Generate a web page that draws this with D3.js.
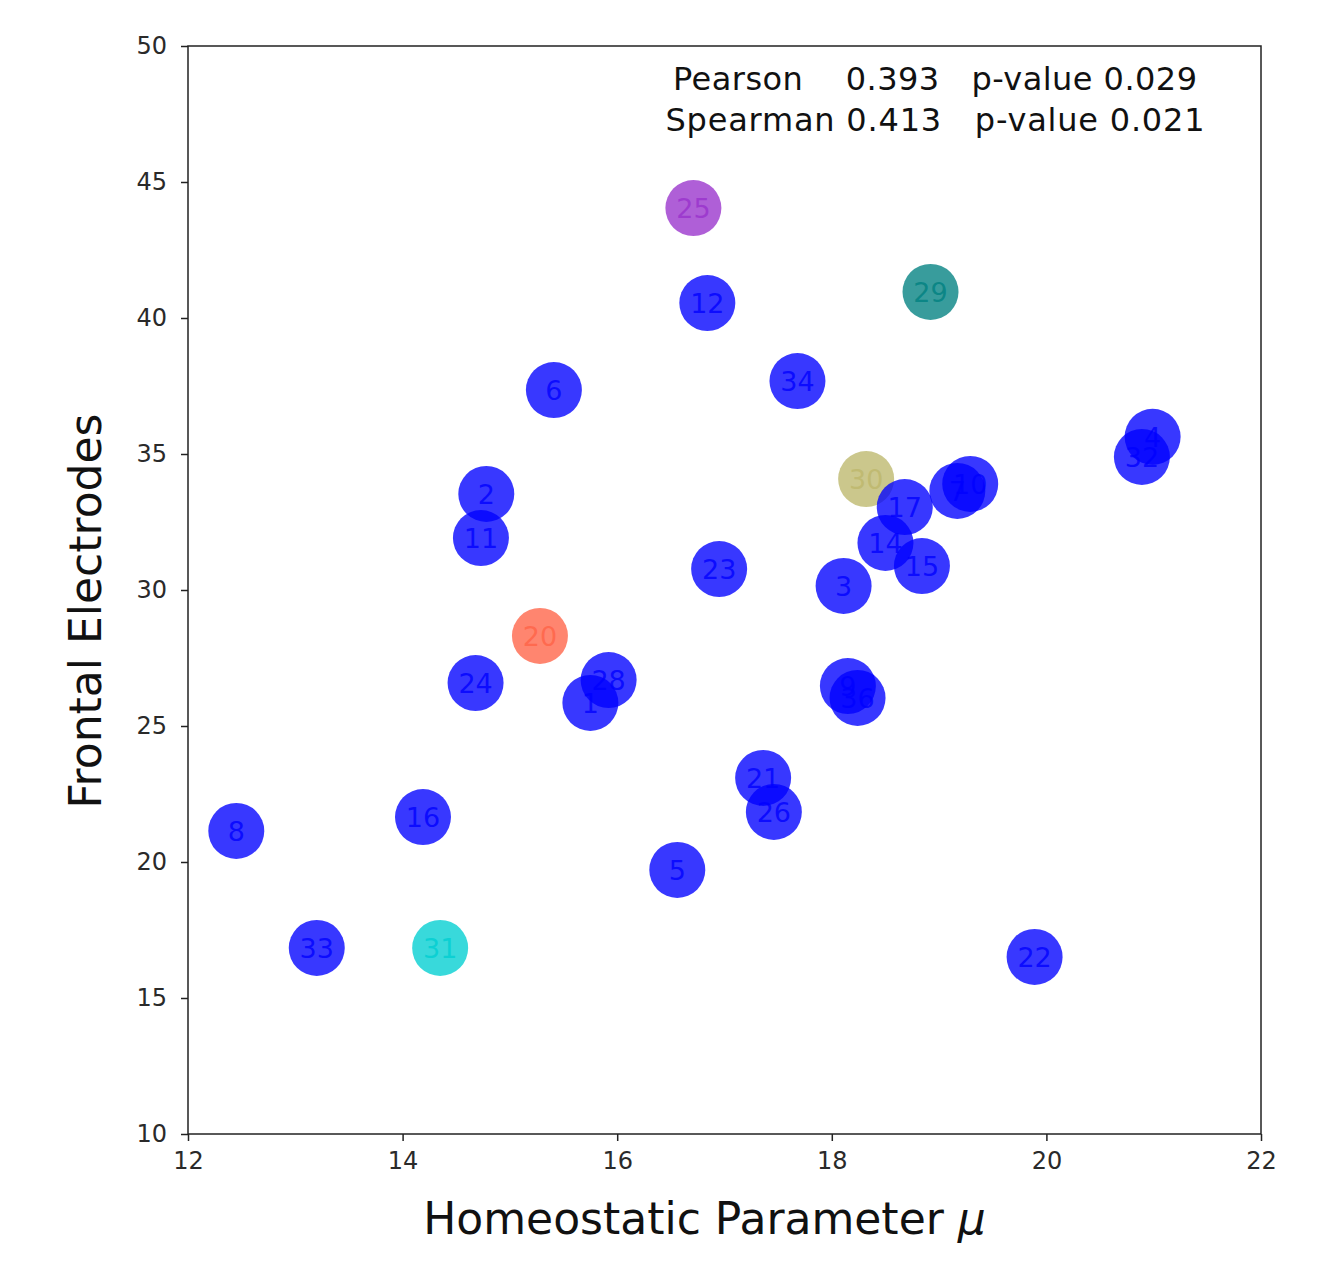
<!DOCTYPE html>
<html>
<head>
<meta charset="utf-8">
<script src="https://cdn.jsdelivr.net/npm/d3@7"></script>
<style>
  body { margin: 0; background: #fff; }
  svg text { font-family: "DejaVu Sans", sans-serif; }
</style>
</head>
<body>
<div id="chart"></div>
<script>
// subject labels, x = homeostatic parameter mu, y = frontal electrodes
const labels = ["25","12","29","6","34","4","32","30","2","17","7","10","11","14","15","23","3","20","28","1","24","9","36","21","26","16","8","5","33","31","22"];
const muVals = [16.71,16.84,18.92,15.41,17.68,20.99,20.89,18.32,14.78,18.68,19.17,19.29,14.73,18.50,18.84,16.95,18.11,15.28,15.92,15.75,14.68,18.15,18.24,17.36,17.46,14.19,12.45,16.56,13.20,14.35,19.89];
const frontalVals = [44.04,40.55,40.96,37.35,37.68,35.63,34.89,34.08,33.53,33.05,33.64,33.90,31.91,31.73,30.88,30.77,30.15,28.31,26.69,25.85,26.58,26.47,26.03,23.09,21.84,21.65,21.14,19.71,16.84,16.84,16.51];
const groups = ["purple","blue","teal","blue","blue","blue","blue","khaki","blue","blue","blue","blue","blue","blue","blue","blue","blue","tomato","blue","blue","blue","blue","blue","blue","blue","blue","blue","blue","blue","cyan","blue"];

const xTicks = [12, 14, 16, 18, 20, 22];
const yTicks = [10, 15, 20, 25, 30, 35, 40, 45, 50];
const statLines = ["Pearson    0.393   p-value 0.029", "Spearman 0.413   p-value 0.021"];

const groupColor = {
  blue: "#0000ff", purple: "#9932cc", teal: "#008080",
  khaki: "#bdb76b", tomato: "#ff6347", cyan: "#00ced1"
};

// === sizing ===
const outerW = 1336, outerH = 1261;
const margin = { top: 46, right: 75, bottom: 127, left: 188 };
const width = outerW - margin.left - margin.right;
const height = outerH - margin.top - margin.bottom;

const svg = d3.select("#chart").append("svg")
  .attr("width", outerW).attr("height", outerH);
const g = svg.append("g").attr("transform", `translate(${margin.left},${margin.top})`);

const x = d3.scaleLinear().domain([12, 22]).range([0, width]);
const y = d3.scaleLinear().domain([10, 50]).range([height, 0]);

// axes
const xAxisG = g.append("g").attr("transform", `translate(0,${height})`)
  .call(d3.axisBottom(x).tickValues(xTicks).tickSize(7).tickPadding(11).tickFormat(d3.format("d")));
const yAxisG = g.append("g")
  .call(d3.axisLeft(y).tickValues(yTicks).tickSize(7).tickPadding(14).tickFormat(d3.format("d")));
[xAxisG, yAxisG].forEach(a => {
  a.select(".domain").remove();
  a.selectAll(".tick line").attr("stroke", "#222").attr("stroke-width", 1.5);
  a.selectAll(".tick text").attr("font-size", 24).attr("fill", "#2a2a2a")
    .style("font-family", "DejaVu Sans, sans-serif");
});

// frame
g.append("rect")
  .attr("width", width).attr("height", height)
  .attr("fill", "none").attr("stroke", "#222").attr("stroke-width", 1.5);

// points
const pts = labels.map((l, i) => ({ label: l, mu: muVals[i], fr: frontalVals[i], grp: groups[i] }));
const dots = g.append("g");
dots.selectAll("circle").data(pts).enter().append("circle")
  .attr("cx", d => x(d.mu)).attr("cy", d => y(d.fr)).attr("r", 28)
  .attr("fill", d => groupColor[d.grp]).attr("fill-opacity", 0.78);

const lbls = g.append("g");
lbls.selectAll("text").data(pts).enter().append("text")
  .attr("x", d => x(d.mu)).attr("y", d => y(d.fr) + 10)
  .attr("text-anchor", "middle")
  .attr("font-size", 27)
  .attr("fill", d => groupColor[d.grp]).attr("fill-opacity", 0.8)
  .text(d => d.label);

// stats text
g.append("g").selectAll("text").data(statLines).enter().append("text")
  .attr("x", 935 - margin.left).attr("y", (d, i) => 44 + i * 41)
  .attr("text-anchor", "middle")
  .attr("font-size", 32).attr("fill", "#111")
  .attr("textLength", (d, i) => i === 0 ? 524 : 539)
  .attr("lengthAdjust", "spacing")
  .attr("xml:space", "preserve").style("white-space", "pre")
  .text(d => d);

// axis labels
const xl = g.append("text")
  .attr("x", width / 2 - 20).attr("y", height + 100)
  .attr("text-anchor", "middle").attr("font-size", 44).attr("fill", "#111");
xl.append("tspan").text("Homeostatic Parameter ");
xl.append("tspan").attr("font-style", "italic").text("μ");

g.append("text")
  .attr("transform", "rotate(-90)")
  .attr("x", -height / 2 - 21).attr("y", -87)
  .attr("text-anchor", "middle").attr("font-size", 44).attr("fill", "#111")
  .text("Frontal Electrodes");
</script>
</body>
</html>
